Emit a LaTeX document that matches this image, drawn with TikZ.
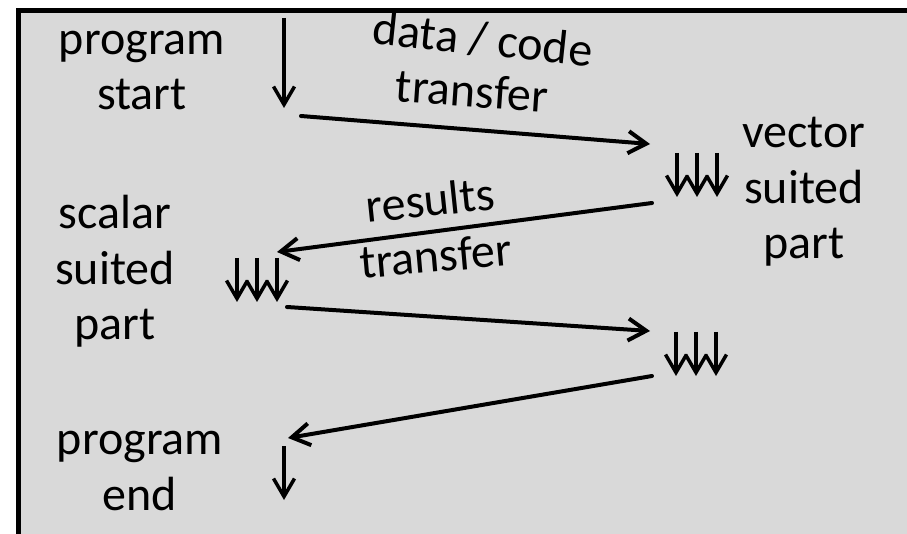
\documentclass[tikz,border=0pt]{standalone}
\usepackage{fontspec}
\setmainfont{Carlito}
\usetikzlibrary{arrows.meta,calc}
\definecolor{panel}{HTML}{D9D9D9}
\begin{document}
\begin{tikzpicture}[x=1pt,y=-1pt,
  lbl/.style={font=\fontsize{48}{55.5}\selectfont, inner sep=0pt, align=center, anchor=base},
  flow/.style={line width=4pt, line cap=round, -{Straight Barb[length=18pt,width=22pt]}},
  down/.style={line width=3.5pt, -{Straight Barb[length=18pt,width=21pt]}},
  tri/.pic={\foreach \dx in {-20,0,20} \draw[down] (\dx,-22) -- (\dx,22);}]
\useasboundingbox (0,0) rectangle (907,534);
% panel with its top and left border
\fill[panel] (18,10) rectangle (907,534);
\draw[line width=5pt] (18.5,534) -- (18.5,10.5) -- (907,10.5);

% phase labels (placed at the baseline of their last line)
\node[lbl] (start)  at (142,110) {program\\start};
\node[lbl] (vector) at (804,259) {vector\\suited\\part};
\node[lbl] (scalar) at (115,340) {scalar\\suited\\part};
\node[lbl] (finish) at (140,510) {program\\end};

% single control flow at start and end
\coordinate (s0) at (284,18);
\coordinate (s1) at (284,108);
\coordinate (e0) at (284,446);
\coordinate (e1) at (284,500);
\draw[down] (s0) -- (s1);
\draw[down] (e0) -- (e1);

% parallel sections
\coordinate (v1) at (697,175);
\coordinate (c1) at (257,280);
\coordinate (v2) at (696,354);
\pic at (v1) {tri};
\pic at (c1) {tri};
\pic at (v2) {tri};

% transfers between the sections
\draw[flow] ($(s1)+(17,8)$) -- ($(v1)+(-47,-31)$);
\draw[flow] ($(v1)+(-45,28)$) -- ($(c1)+(20,-28)$);
\draw[flow] ($(c1)+(30,27)$) -- ($(v2)+(-46,-23)$);
\draw[flow] ($(v2)+(-44,22)$) -- ($(e0)+(4,-8)$);

% transfer labels
\node[lbl, rotate=-6] (dc)  at (481,55)  {data / code};
\node[lbl, rotate=-4] (tr1) at (471,107) {transfer};
\node[lbl, rotate=6]  (res) at (432,216) {results};
\node[lbl, rotate=5]  (tr2) at (437,272) {transfer};
\end{tikzpicture}
\end{document}
